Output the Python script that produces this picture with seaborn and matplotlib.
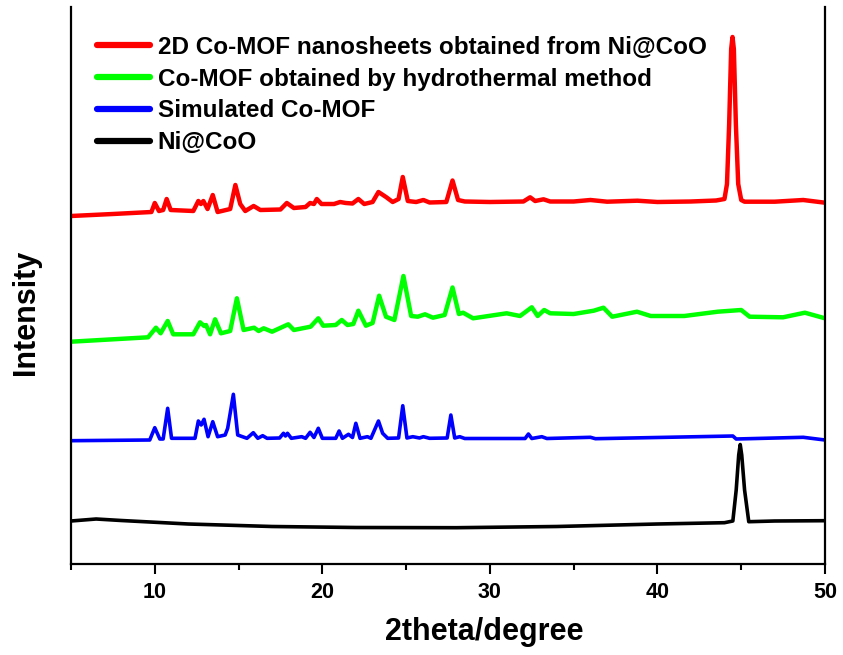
import matplotlib
matplotlib.use("Agg")
import matplotlib.pyplot as plt
import seaborn as sns

# ---------------- data (2theta in degree, intensity in a.u., offset stacked) ----------------
red_x = [5.0, 7.5, 9.8, 10.0, 10.25, 10.5, 10.71, 10.95, 12.3, 12.6, 12.75, 12.9, 13.15, 13.46,
         13.75, 14.5, 14.81, 15.1, 15.4, 15.9, 16.3, 17.5, 17.88, 18.3, 19.0, 19.27, 19.5, 19.67,
         19.95, 20.7, 21.06, 21.4, 21.8, 22.15, 22.5, 23.0, 23.35, 23.8, 24.2, 24.55, 24.8, 25.1,
         25.6, 26.03, 26.4, 27.4, 27.77, 28.1, 28.5, 30.0, 32.0, 32.4, 32.7, 33.2, 33.6, 35.0,
         36.0, 37.0, 38.8, 40.0, 42.0, 43.5, 44.0, 44.15, 44.28, 44.4, 44.48, 44.56, 44.68, 44.82,
         45.0, 45.2, 47.0, 48.7, 50.0]
red_y = [348, 350, 352, 361, 353, 354, 365, 354, 353, 363, 360, 363, 355, 369,
         352, 355, 379, 360, 353, 358, 354, 354.5, 361, 356, 357, 361, 360, 365,
         360, 360, 362, 361, 360.5, 365, 360, 362, 372, 367, 362, 365, 387, 363,
         362, 364, 361.5, 362, 383.5, 364, 362.5, 362, 362.5, 366.7, 363, 364.7, 362.5, 362.5,
         364, 362.3, 363.3, 362, 362.5, 363.5, 365, 380, 440, 515, 527, 515, 440, 380,
         364, 362.3, 362.3, 364, 361.3]

green_x = [5.0, 9.6, 10.07, 10.35, 10.77, 11.1, 12.3, 12.7, 12.95, 13.06, 13.3, 13.6, 13.95,
           14.5, 14.9, 15.3, 15.93, 16.2, 16.5, 17.0, 17.97, 18.3, 19.3, 19.76, 20.05, 20.8,
           21.16, 21.5, 21.85, 22.15, 22.6, 23.0, 23.39, 23.8, 24.3, 24.84, 25.3, 25.7, 26.13,
           26.6, 27.3, 27.77, 28.15, 28.4, 29.0, 31.0, 31.8, 32.5, 32.85, 33.24, 33.6, 35.0,
           36.2, 36.78, 37.3, 38.78, 39.6, 41.6, 43.6, 45.0, 45.5, 47.5, 48.8, 50.0]
green_y = [222.3, 226.7, 236.3, 230.7, 243, 229.7, 229.7, 241.7, 238, 239, 229.7, 244.7, 230.7,
           233, 265.7, 234, 236.3, 233, 235.7, 232.3, 239.7, 234, 237.3, 245.7, 238.3, 239,
           244, 239, 240, 253.3, 238.3, 241, 268.3, 247.3, 244, 288, 248, 247.3, 249.7,
           246.3, 249, 276.5, 250, 251.3, 245.7, 250.7, 248, 256.7, 248, 254, 250.7, 250,
           253.3, 256.3, 247.3, 252.3, 248, 248, 252.3, 254, 247.3, 246.7, 251.3, 245.7]

blue_x = [5.0, 9.7, 10.0, 10.3, 10.5, 10.77, 11.0, 12.4, 12.6, 12.77, 12.94, 13.18, 13.46, 13.75,
          14.2, 14.35, 14.69, 14.95, 15.5, 15.88, 16.15, 16.44, 16.7, 17.45, 17.68, 17.8, 17.92,
          18.15, 18.77, 19.0, 19.27, 19.5, 19.76, 20.0, 20.8, 21.0, 21.2, 21.56, 21.8, 22.0,
          22.25, 22.69, 22.9, 23.35, 23.6, 23.9, 24.55, 24.8, 25.05, 25.4, 25.8, 26.03, 26.4,
          27.45, 27.67, 27.9, 28.2, 28.5, 32.1, 32.3, 32.5, 33.1, 33.4, 36.0, 36.3, 44.5, 44.7,
          48.7, 50.0]
blue_y = [123.3, 124, 136.3, 125, 125, 155.7, 125.7, 125.7, 143, 139, 144.7, 127.3, 142.3, 127.3,
          129, 135.7, 169.7, 129, 125.7, 131.3, 125.7, 128.3, 125.7, 126, 130.7, 128, 130.7,
          125.7, 127.3, 125.7, 131.7, 126.5, 135.7, 125.7, 125.7, 133, 125.7, 129.7, 126.5, 140.7,
          125.7, 127.3, 125.7, 143, 130.7, 125.7, 126, 158.3, 126, 127.3, 126, 127.3, 125.7,
          126, 149, 126, 127.3, 125.5, 125.5, 130, 125.5, 127.3, 125.5, 126.7, 125.3, 128, 125,
          126.7, 124]

black_x = [5.0, 6.5, 8.0, 12.0, 17.0, 22.0, 28.0, 34.0, 40.0, 44.0, 44.5, 44.7, 44.85, 44.94,
           45.03, 45.2, 45.45, 47.0, 50.0]
black_y = [43, 45, 43.5, 40, 37.5, 36.5, 36.3, 37.5, 40, 41.3, 43, 74, 109, 119.5,
           109, 74, 42.3, 43, 43.3]

labels = ["2D Co-MOF nanosheets obtained from Ni@CoO",
          "Co-MOF obtained by hydrothermal method",
          "Simulated Co-MOF",
          "Ni@CoO"]
colors = ["#ff0000", "#00ff00", "#0000ff", "#000000"]
x_ticks = [10, 20, 30, 40, 50]
x_label = "2theta/degree"
y_label = "Intensity"

# ---------------- style ----------------
sns.set_style("white")
plt.rcParams["font.family"] = ["Liberation Sans", "DejaVu Sans"]
plt.rcParams["text.color"] = "black"
plt.rcParams["axes.labelcolor"] = "black"
plt.rcParams["xtick.color"] = "black"
plt.rcParams["ytick.color"] = "black"

fig = plt.figure(figsize=(8.43, 6.55), dpi=100)
ax = fig.add_axes([71 / 843, 91 / 655, 754 / 843, 557 / 655])

series = [(red_x, red_y), (green_x, green_y), (blue_x, blue_y), (black_x, black_y)]
widths = [3.2, 3.2, 2.6, 2.6]
for (xs, ys), c, lab, lw in zip(series, colors, labels, widths):
    sns.lineplot(x=xs, y=ys, ax=ax, color=c, linewidth=lw, label=lab, sort=False)

ax.set_xlim(5, 50)
ax.set_ylim(0, 557)
ax.set_xticks(x_ticks)
ax.set_xticks([5, 15, 25, 35, 45], minor=True)
ax.set_yticks([])
ax.tick_params(axis="x", which="major", direction="out", length=7, width=1.5, pad=6,
               bottom=True, labelsize=15.5, colors="black")
ax.tick_params(axis="x", which="minor", direction="out", length=4, width=1.5, bottom=True,
               colors="black")
for lbl in ax.get_xticklabels():
    lbl.set_fontweight("bold")
    lbl.set_color("black")

for side in ["left", "right", "bottom"]:
    ax.spines[side].set_visible(True)
    ax.spines[side].set_color("black")
    ax.spines[side].set_linewidth(1.6)
ax.spines["top"].set_visible(False)

ax.set_xlabel(x_label, fontsize=22, fontweight="bold", color="black")
ax.set_ylabel(y_label, fontsize=22, fontweight="bold", color="black")
ax.xaxis.set_label_coords(0.548, -0.095)
ax.yaxis.set_label_coords(-0.04, 0.452)

leg = ax.legend(loc="upper left", bbox_to_anchor=(0.0345, 0.948), frameon=False,
                borderaxespad=0, borderpad=0, handlelength=2.2, handletextpad=0.3,
                labelspacing=0.36, prop={"family": "Liberation Sans", "weight": "bold", "size": 17.5})
for h in leg.get_lines():
    h.set_linewidth(4.5)
for t in leg.get_texts():
    t.set_color("black")

fig.savefig("out.png", dpi=100)
